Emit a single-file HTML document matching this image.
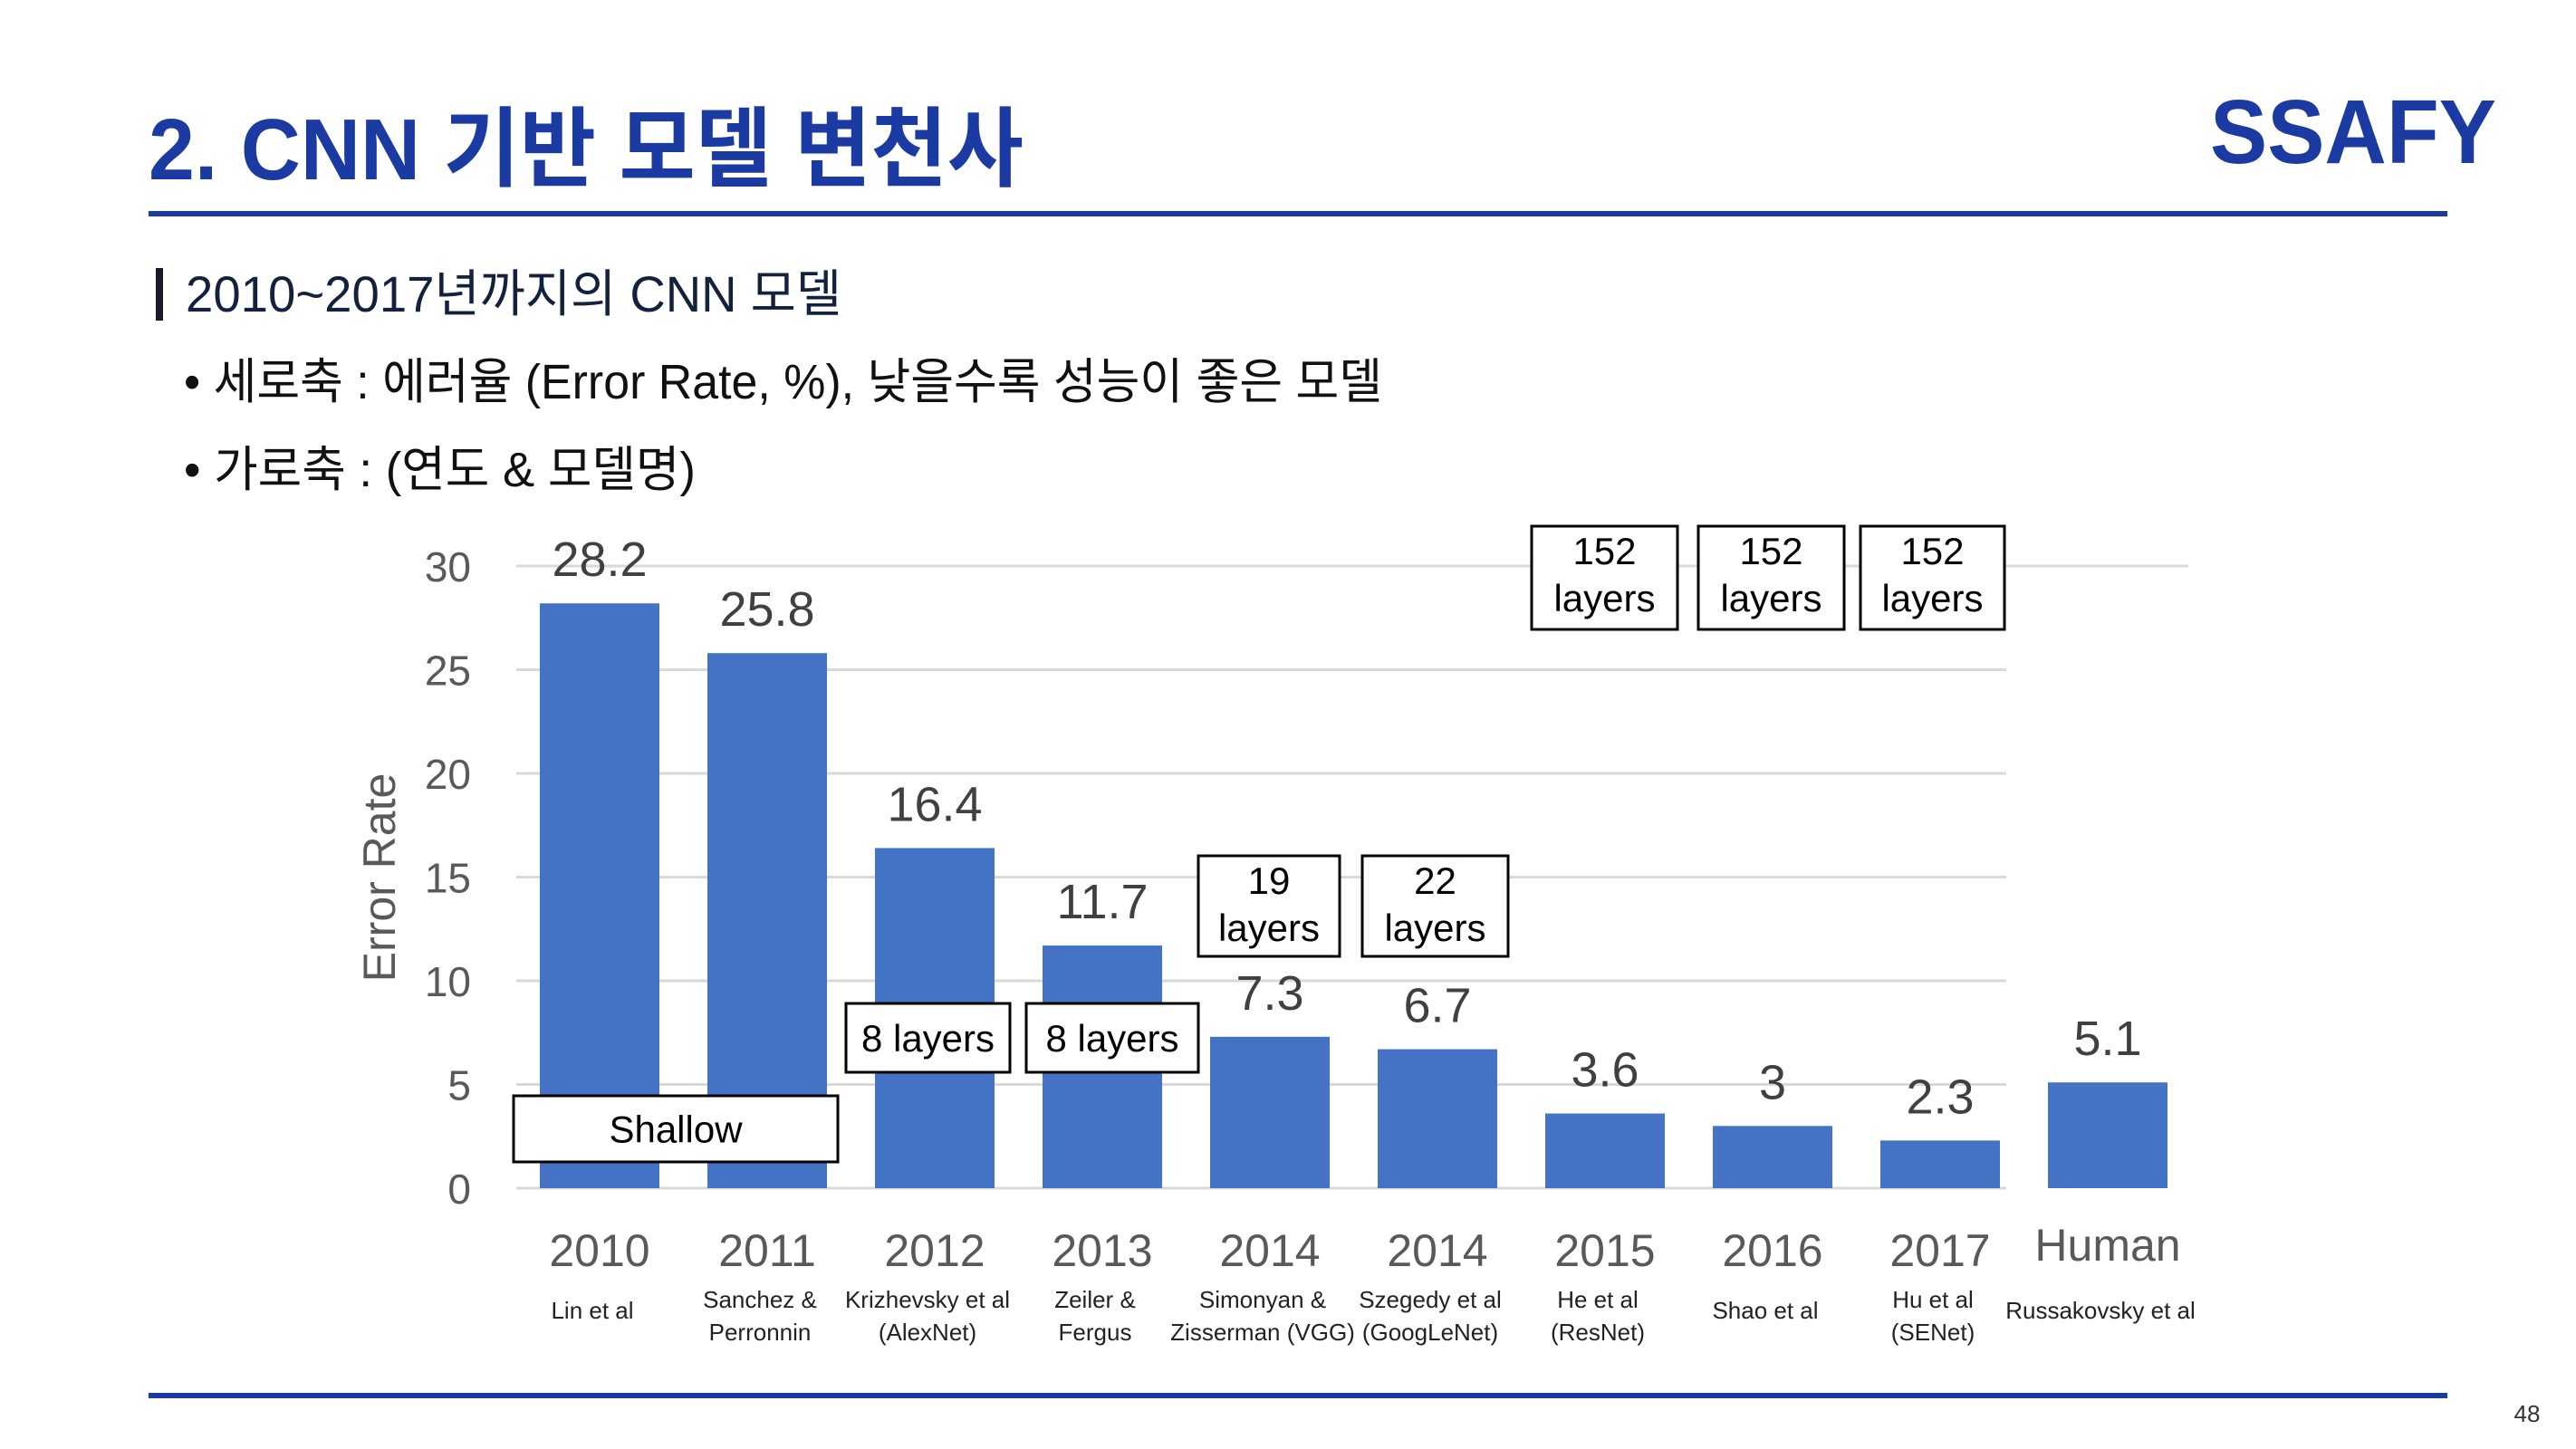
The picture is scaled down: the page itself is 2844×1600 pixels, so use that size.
<!DOCTYPE html>
<html><head><meta charset="utf-8"><style>
html,body{margin:0;padding:0;background:#fff;}
svg{display:block;font-family:"Liberation Sans","Noto Sans CJK KR",sans-serif;}
</style></head><body>
<svg id="page" width="2844" height="1600" viewBox="0 0 2844 1600" xmlns="http://www.w3.org/2000/svg">
<text x="164" y="198" font-size="96" font-weight="bold" fill="#1b3ba3" textLength="966" lengthAdjust="spacingAndGlyphs">2. CNN 기반 모델 변천사</text>
<g><text x="2440" y="180" font-size="100" font-weight="bold" fill="#1b3ba3" textLength="316" lengthAdjust="spacingAndGlyphs">SSAFY</text></g>
<rect x="164" y="233" width="2538" height="6" fill="#1b3ba3"/>
<rect x="172" y="296" width="8" height="58" fill="#1a1a2e"/>
<text x="205" y="344" font-size="56" fill="#14213d" textLength="724" lengthAdjust="spacingAndGlyphs">2010~2017년까지의 CNN 모델</text>
<text x="203" y="440" font-size="54" fill="#111" textLength="1323" lengthAdjust="spacingAndGlyphs">• 세로축 : 에러율 (Error Rate, %), 낮을수록 성능이 좋은 모델</text>
<text x="203" y="537" font-size="54" fill="#111" textLength="565" lengthAdjust="spacingAndGlyphs">• 가로축 : (연도 &amp; 모델명)</text>
<g id="chart"></g>
<rect x="164" y="1538" width="2538" height="6" fill="#1b3ba3"/>
<text x="2790" y="1570" font-size="26" fill="#333" text-anchor="middle">48</text>
</svg>
<script>
const years = ["2010","2011","2012","2013","2014","2014","2015","2016","2017","Human"];
const authors = [["Lin et al"],["Sanchez &","Perronnin"],["Krizhevsky et al","(AlexNet)"],["Zeiler &","Fergus"],["Simonyan &","Zisserman (VGG)"],["Szegedy et al","(GoogLeNet)"],["He et al","(ResNet)"],["Shao et al"],["Hu et al","(SENet)"],["Russakovsky et al"]];
const errorRates = [28.2, 25.8, 16.4, 11.7, 7.3, 6.7, 3.6, 3, 2.3, 5.1];
const valueLabels = ["28.2","25.8","16.4","11.7","7.3","6.7","3.6","3","2.3","5.1"];
const yTicks = [0,5,10,15,20,25,30];
const NS="http://www.w3.org/2000/svg";
const g=document.getElementById('chart');
function y(v){return 1312-(v/30)*687;}
function xc(i){return 662+i*185;}
function mk(t,a,txt){const e=document.createElementNS(NS,t);for(const k in a)e.setAttribute(k,a[k]);if(txt!==undefined)e.textContent=txt;g.appendChild(e);return e;}
yTicks.forEach(t=>{
  const ln=mk('line',{x1:570,x2:t===30?2416:2215,y1:y(t),y2:y(t),stroke:'#d9d9d9','stroke-width':3});
  
  
  const tl=mk('text',{x:520,y:y(t)+17,'font-size':46,fill:'#595959','text-anchor':'end'},String(t));
  
  
});
const yt=mk('text',{x:0,y:0,'font-size':50,fill:'#595959','text-anchor':'middle',transform:'translate(436,969) rotate(-90)'},'Error Rate');


errorRates.forEach((v,i)=>{
  const b=mk('rect',{x:xc(i)-66,y:y(v),width:132,height:1312-y(v),fill:'#4472c4'});
  
  
  const vl=mk('text',{x:xc(i),y:y(v)-30,'font-size':54,fill:'#404040','text-anchor':'middle'},valueLabels[i]);
  
  
  const yl=mk('text',{x:xc(i),y:i===9?1392:1398,'font-size':50,fill:'#595959','text-anchor':'middle'},years[i]);
  
  
  const a=authors[i];
  a.forEach((line,j)=>{
    const yy=a.length===1?1456:1444+j*36;
    const al=mk('text',{x:xc(i)-8,y:yy,'font-size':26,fill:'#222','text-anchor':'middle'},line);
    
    
  });
});
const boxes=[[567,1210,358,73,["Shallow"]],[934,1108,181,76,["8 layers"]],[1133,1108,190,76,["8 layers"]],[1323,945,156,111,["19","layers"]],[1504,945,161,111,["22","layers"]],[1691,581,161,114,["152","layers"]],[1875,581,161,114,["152","layers"]],[2054,581,159,114,["152","layers"]]];
boxes.forEach((bx,k)=>{
  const r=mk('rect',{x:bx[0],y:bx[1],width:bx[2],height:bx[3],fill:'#fff',stroke:'#000','stroke-width':3});
  
  
  bx[4].forEach((line,j)=>{
    const n=bx[4].length;
    const ty=n===1?bx[1]+bx[3]/2+15:bx[1]+42+j*52;
    const t=mk('text',{x:bx[0]+bx[2]/2,y:ty,'font-size':42,fill:'#000','text-anchor':'middle'},line);
    
    
  });
});
</script>
</body></html>
